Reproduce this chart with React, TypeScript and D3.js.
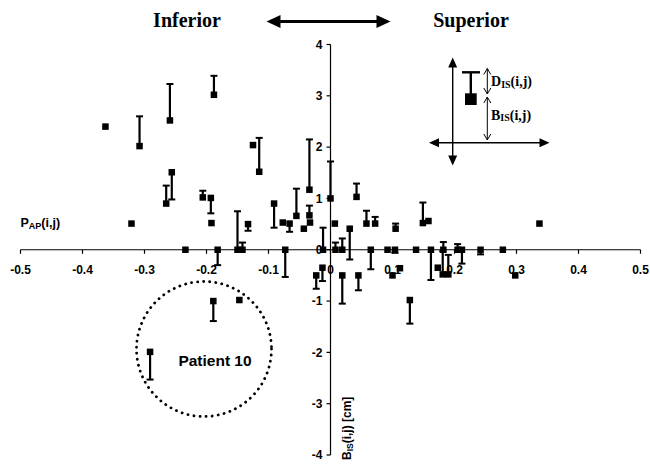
import React from "react";
import * as d3 from "d3";

// P_AP(i,j) (x), B_IS(i,j) (marker), D_IS(i,j) (bar length, signed; 0 = no bar)
const pap = [-0.363, -0.308, -0.259, -0.188, -0.321, -0.265, -0.256, -0.206, -0.193, -0.192, -0.234, -0.125, -0.115, -0.15, -0.142, -0.133, -0.091, -0.077, -0.066, -0.055, -0.043, -0.034, -0.034, -0.033, -0.012, 0.0, 0.007, 0.008, 0.019, 0.031, 0.042, 0.058, 0.072, 0.065, 0.092, 0.104, 0.105, -0.023, -0.013, 0.019, 0.045, 0.1, 0.112, 0.149, 0.158, 0.337, 0.138, 0.162, 0.173, 0.182, 0.181, 0.19, 0.205, 0.212, 0.242, 0.278, 0.298, 0.128, -0.182, -0.073, -0.189, -0.147, -0.291];
const bis = [2.4, 2.02, 2.52, 3.02, 0.51, 0.9, 1.51, 1.02, 1.01, 0.52, 0, 2.04, 1.52, 0, 0, 0.5, 0.9, 0.53, 0.51, 0.66, 0.41, 1.17, 0.67, 0.53, 0, 1.0, 0.51, 0, 0, 0.41, 1.03, 0.51, 0.51, 0, 0, 0, 0.41, -0.5, -0.35, -0.5, -0.5, -0.5, -0.36, 0.52, 0.56, 0.51, 0, 0, -0.35, 0, -0.48, -0.48, 0, 0, 0, 0, -0.5, -0.98, 0, 0, -1.0, -0.98, -1.99];
const dis = [0, 0.58, 0.71, 0.37, 0, 0.35, -0.53, 0.13, -0.3, 0, 0, 0, 0.66, 0.75, 0.14, -0.13, -0.47, 0, -0.16, 0.53, 0, 0.98, 0.19, 0, 0.43, 0.72, 0, 0.14, 0.22, -0.6, 0.26, 0.25, 0.13, -0.38, 0, -0.06, 0.1, -0.26, -0.26, -0.55, -0.29, 0, 0, 0.4, 0, 0, 0, -0.59, 0, 0.15, 0.45, 0.38, 0.11, -0.27, -0.09, 0, 0, -0.46, -0.3, -0.53, -0.39, 0, -0.54];

const xTicks = [-0.5, -0.4, -0.3, -0.2, -0.1, 0, 0.1, 0.2, 0.3, 0.4, 0.5];
const yTicks = [-4, -3, -2, -1, 0, 1, 2, 3, 4];

const sans = "'Liberation Sans', Arial, sans-serif";
const serif = "'Liberation Serif', 'Times New Roman', serif";

export default function App() {
  const x = d3.scaleLinear().domain([-0.5, 0.5]).range([20.5, 640.5]);
  const y = d3.scaleLinear().domain([-4, 4]).range([455, 44.5]);
  const x0 = x(0);
  const y0 = y(0);
  const ms = 6.5;

  const arrowHead = (tx: number, ty: number, dir: "l" | "r" | "u" | "d", len: number, half: number) => {
    let pts: number[][] = [];
    if (dir === "l") pts = [[tx, ty], [tx + len, ty - half], [tx + len, ty + half]];
    if (dir === "r") pts = [[tx, ty], [tx - len, ty - half], [tx - len, ty + half]];
    if (dir === "u") pts = [[tx, ty], [tx - half, ty + len], [tx + half, ty + len]];
    if (dir === "d") pts = [[tx, ty], [tx - half, ty - len], [tx + half, ty - len]];
    return <polygon points={pts.map((p) => p.join(",")).join(" ")} fill="#000" />;
  };

  const openArrow = (xa: number, y1: number, y2: number) => (
    <g stroke="#000" strokeWidth={1} fill="none">
      <line x1={xa} y1={y1} x2={xa} y2={y2} />
      <polyline points={`${xa - 3.5},${y1 + 6} ${xa},${y1} ${xa + 3.5},${y1 + 6}`} />
      <polyline points={`${xa - 3.5},${y2 - 6} ${xa},${y2} ${xa + 3.5},${y2 - 6}`} />
    </g>
  );

  return (
    <svg width={650} height={464} style={{ position: "absolute", left: 0, top: 0, background: "#fff" }}>
      <rect width={650} height={464} fill="#fff" />
      {/* Header */}
      <text x={187} y={27} textAnchor="middle" fontFamily={serif} fontWeight="bold" fontSize={20}>Inferior</text>
      <text x={471} y={27} textAnchor="middle" fontFamily={serif} fontWeight="bold" fontSize={20}>Superior</text>
      <line x1={276} y1={21.5} x2={381} y2={21.5} stroke="#000" strokeWidth={3.2} />
      {arrowHead(266.5, 21.5, "l", 14, 6.5)}
      {arrowHead(390.5, 21.5, "r", 14, 6.5)}

      {/* Axes */}
      <line x1={x(-0.5)} y1={y0} x2={x(0.5)} y2={y0} stroke="#000" strokeWidth={1.2} />
      <line x1={x0} y1={y(4)} x2={x0} y2={y(-4)} stroke="#000" strokeWidth={1.2} />
      {xTicks.map((t) => (
        <g key={"xt" + t}>
          <line x1={x(t)} y1={y0} x2={x(t)} y2={y0 + 4} stroke="#000" strokeWidth={1.2} />
          <text x={x(t)} y={274} textAnchor="middle" fontFamily={sans} fontWeight="bold" fontSize={12}>{t === 0 ? "0" : String(t)}</text>
        </g>
      ))}
      {yTicks.map((t) => (
        <g key={"yt" + t}>
          <line x1={x0 - 4} y1={y(t)} x2={x0} y2={y(t)} stroke="#000" strokeWidth={1.2} />
          <text x={x0 - 8} y={y(t) + 4.3} textAnchor="end" fontFamily={sans} fontWeight="bold" fontSize={12}>{t}</text>
        </g>
      ))}

      {/* Axis titles */}
      <text x={20.5} y={226.5} fontFamily={sans} fontWeight="bold" fontSize={12.5}>
        P<tspan fontSize={9} dy={2}>AP</tspan><tspan dy={-2}>(i,j)</tspan>
      </text>
      <text transform={`translate(351,460) rotate(-90)`} fontFamily={sans} fontWeight="bold" fontSize={12}>
        B<tspan fontSize={8.5} dy={2}>IS</tspan><tspan dy={-2}>(i,j) [cm]</tspan>
      </text>

      {/* Data */}
      {pap.map((p, i) => {
        const cx = x(p);
        const cy = y(bis[i]);
        const d = dis[i];
        const ey = y(bis[i] + d);
        return (
          <g key={"p" + i}>
            {d !== 0 && (
              <g stroke="#000" strokeWidth={2.2}>
                <line x1={cx} y1={cy} x2={cx} y2={ey} />
                <line x1={cx - 3.5} y1={ey} x2={cx + 3.5} y2={ey} strokeWidth={2} />
              </g>
            )}
            <rect x={cx - ms / 2} y={cy - ms / 2} width={ms} height={ms} fill="#000" />
          </g>
        );
      })}

      {/* Patient 10 */}
      <circle cx={204} cy={349} r={67.5} fill="none" stroke="#000" strokeWidth={2.8} strokeDasharray="0.1 6" strokeLinecap="round" />
      <text x={215} y={366} textAnchor="middle" fontFamily={sans} fontWeight="bold" fontSize={15.5}>Patient 10</text>

      {/* Legend schematic */}
      <line x1={452.7} y1={66} x2={452.7} y2={157} stroke="#000" strokeWidth={1.4} />
      {arrowHead(452.7, 57.5, "u", 10, 4.5)}
      {arrowHead(452.7, 165.5, "d", 10, 4.5)}
      <line x1={437} y1={142.7} x2={541} y2={142.7} stroke="#000" strokeWidth={1.4} />
      {arrowHead(429, 142.7, "l", 10, 4.5)}
      {arrowHead(549.5, 142.7, "r", 10, 4.5)}
      <line x1={470.8} y1={99} x2={470.8} y2={72.3} stroke="#000" strokeWidth={2.4} />
      <line x1={462} y1={72.3} x2={480} y2={72.3} stroke="#000" strokeWidth={2.4} />
      <rect x={465} y={93.3} width={11.7} height={11.7} fill="#000" />
      {openArrow(487.3, 68.5, 94)}
      {openArrow(487.3, 97, 140)}
      <text x={491} y={86} fontFamily={serif} fontWeight="bold" fontSize={14}>
        D<tspan fontSize={10} dy={1.5}>IS</tspan><tspan dy={-1.5}>(i,j)</tspan>
      </text>
      <text x={491} y={119.5} fontFamily={serif} fontWeight="bold" fontSize={14}>
        B<tspan fontSize={10} dy={1.5}>IS</tspan><tspan dy={-1.5}>(i,j)</tspan>
      </text>
    </svg>
  );
}
